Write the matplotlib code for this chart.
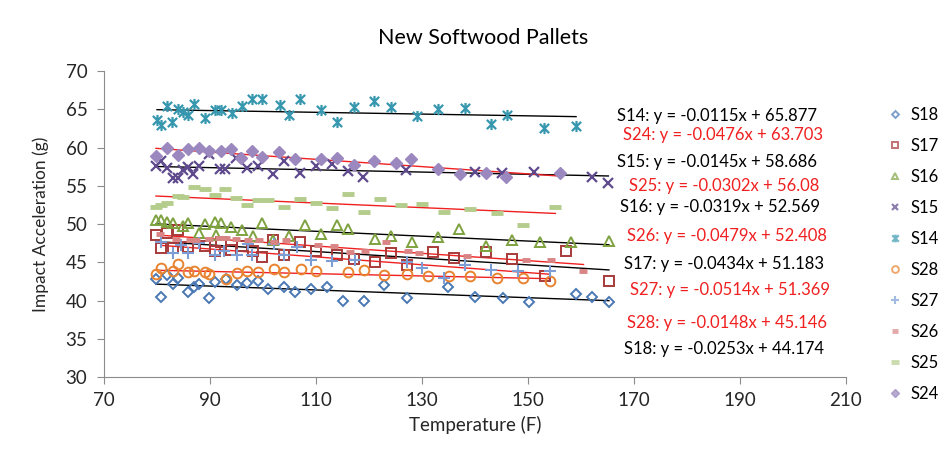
import matplotlib
matplotlib.use("Agg")
import matplotlib.pyplot as plt
from matplotlib.path import Path
import numpy as np

plt.rcParams['font.family'] = ['Lato', 'DejaVu Sans']

# ---- data: temperature (F) and impact acceleration (g) per pallet ----
s14_t = [80, 80.8, 81.9, 82.9, 83.9, 84.9, 85.9, 86.9, 89, 90.9, 92, 94.1, 96.1, 98, 99.9,
         103.2, 105, 106.9, 111, 114, 117.1, 120.9, 124.1, 129.1, 133, 138.2, 143.1, 146.1,
         153.1, 159.1]
s14_g = [63.6, 62.9, 65.4, 63.3, 65.0, 64.6, 64.2, 65.7, 63.9, 64.9, 64.9, 64.5, 65.4, 66.4, 66.3,
         65.6, 64.2, 66.3, 64.9, 63.3, 65.3, 66.1, 65.3, 64.1, 65.1, 65.2, 63.1, 64.2,
         62.5, 62.8]

s24_t = [79.8, 81.9, 84, 85.9, 87.9, 89.9, 92, 94, 95.8, 98, 99.9, 103.1, 106, 111, 114, 117.1,
         120.9, 125.1, 127.9, 133.1, 137.1, 142.1, 145.9, 156.1]
s24_g = [58.9, 60.0, 59.0, 59.8, 59.9, 59.6, 59.6, 59.8, 58.6, 59.6, 58.8, 59.4, 58.5, 58.5, 58.7, 57.7,
         58.3, 58.0, 58.5, 57.2, 56.6, 56.7, 56.1, 56.7]

s15_t = [79.8, 80.8, 81.9, 83, 84, 84.9, 85.9, 86.8, 87.9, 89.9, 91.8, 92.8, 94.9, 96.9, 99,
         101.9, 103.9, 106.9, 110, 113, 116, 118.9, 127, 140.1, 145.1, 151.1, 162.2, 165.2]
s15_g = [57.6, 58.2, 57.3, 56.0, 56.0, 57.1, 57.5, 56.6, 57.6, 59.2, 57.2, 57.2, 58.6, 57.3, 57.6,
         56.5, 58.2, 56.7, 57.6, 57.8, 56.9, 56.1, 57.1, 56.8, 56.7, 56.8, 56.2, 55.4]

s25_t = [79.8, 80.8, 81.9, 84, 84.9, 86.9, 89, 91, 92.9, 94.9, 96.9, 99, 101, 103.9, 106.9,
         110, 113, 116, 119.1, 122.1, 126, 130, 134.1, 139.1, 144.1, 149.1, 155.2]
s25_g = [52.2, 52.5, 52.7, 53.7, 53.6, 54.9, 54.6, 53.8, 54.6, 53.4, 52.5, 53.2, 53.1, 52.2, 53.3,
         52.8, 52.1, 53.9, 51.6, 53.3, 52.5, 52.6, 51.6, 52.0, 51.5, 49.9, 52.2]

s16_t = [79.8, 80.8, 81.9, 83, 84.9, 85.9, 87.9, 89, 91, 91.2, 92, 93.9, 96, 98.1, 99.9, 101.9,
         105, 107.9, 111, 114, 116.1, 121.1, 124.1, 128.1, 133, 137, 142.1, 147, 152.3, 158.2,
         165.3]
s16_g = [50.5, 50.5, 50.3, 50.2, 49.7, 50.2, 48.9, 50.0, 50.3, 48.6, 50.2, 49.6, 49.2, 48.5, 50.1, 47.9,
         48.4, 49.9, 48.7, 49.9, 49.3, 48.0, 48.5, 47.7, 48.3, 49.4, 47.2, 47.9, 47.7, 47.6,
         47.8]

s26_t = [80.5, 83.5, 86.2, 87.3, 89.8, 91.7, 93.1, 94.9, 97.2, 99.3, 102.1, 104.3, 110.4, 113.4,
         116.5, 119.3, 123.3, 127.4, 129.5, 138.6, 149.6, 154.4, 160.5]
s26_g = [48.7, 48.0, 47.9, 47.9, 48.1, 48.2, 48.2, 48.0, 47.9, 47.9, 47.7, 47.9, 47.3, 47.2,
         46.4, 46.5, 47.6, 46.5, 46.2, 45.8, 45.3, 45.3, 43.9]

s17_t = [79.8, 80.8, 81.9, 83, 84, 85.9, 89, 91, 92, 93.9, 96, 98.1, 99.9, 101.9, 103.9, 106.9,
         110, 114, 117.1, 121.1, 124.1, 127.1, 132, 136.1, 142.1, 147, 153.2, 157.2, 165.3]
s17_g = [48.6, 46.9, 48.9, 46.9, 49.2, 47.0, 47.1, 46.5, 47.6, 46.6, 47.2, 46.5, 45.7, 47.9, 45.9, 47.6,
         46.5, 45.9, 45.4, 45.1, 46.2, 44.7, 46.4, 45.6, 46.3, 45.5, 43.2, 46.5, 42.5]

s27_t = [80.8, 83, 84.5, 85.9, 87.9, 91, 92.6, 95, 97.1, 98, 102.1, 104, 106.5, 109, 113, 117.3,
         127.1, 130, 134.1, 138.2, 143.1, 148.1, 154.2]
s27_g = [47.6, 46.2, 47.3, 46.2, 47.5, 45.9, 46.5, 45.9, 47.4, 45.9, 47.4, 45.9, 47.0, 45.3, 45.2, 45.3,
         45.1, 44.2, 43.0, 44.7, 44.0, 43.9, 43.9]

s28_t = [79.8, 80.8, 83, 84, 85.9, 86.9, 89, 89.9, 93, 95, 96.9, 99, 102, 104, 107.1, 110, 116,
         119, 122.9, 127.1, 131.2, 135.1, 139.1, 144.1, 149.1, 154.2]
s28_g = [43.5, 44.2, 43.9, 44.8, 43.8, 43.9, 43.8, 43.5, 42.8, 43.6, 43.9, 43.7, 44.1, 43.7, 44.1, 43.9, 43.8,
         44.0, 43.3, 43.5, 43.2, 43.2, 43.2, 42.9, 42.9, 42.5]

s18_t = [79.8, 80.8, 81.9, 83, 84, 85.9, 86.9, 87.9, 89.9, 91, 93, 95, 96.9, 99, 101, 104, 106.1,
         109, 112.1, 115.1, 119, 122.9, 127.1, 135, 140.1, 145.3, 150.2, 159.1, 162.2, 165.3]
s18_g = [42.8, 40.5, 43.4, 42.2, 42.9, 41.1, 41.8, 42.2, 40.3, 42.4, 42.8, 42.1, 42.3, 42.6, 41.5, 41.8, 41.1,
         41.5, 41.8, 39.9, 39.9, 42.1, 40.4, 41.8, 40.5, 40.3, 39.8, 40.8, 40.5, 39.8]

# linear trendline coefficients (slope, intercept)
fit_s14 = (-0.0115, 65.877)
fit_s24 = (-0.0476, 63.703)
fit_s15 = (-0.0145, 58.686)
fit_s25 = (-0.0302, 56.08)
fit_s16 = (-0.0319, 52.569)
fit_s26 = (-0.0479, 52.408)
fit_s17 = (-0.0434, 51.183)
fit_s27 = (-0.0514, 51.369)
fit_s28 = (-0.0148, 45.146)
fit_s18 = (-0.0253, 44.174)

# Excel-style star marker: an "x" with a vertical stroke
star_path = Path(
    [(-0.5, -0.5), (0.5, 0.5), (-0.5, 0.5), (0.5, -0.5), (0, -0.6), (0, 0.6)],
    [Path.MOVETO, Path.LINETO, Path.MOVETO, Path.LINETO, Path.MOVETO, Path.LINETO])

RED = '#F02020'

# name, t, g, fit, marker style, trendline colour
series = [
    ("S18", s18_t, s18_g, fit_s18, dict(marker='D', ms=5, mfc='none', mec='#4A78B4', mew=1.4), 'black'),
    ("S17", s17_t, s17_g, fit_s17, dict(marker='s', ms=7, mfc='none', mec='#A83A3A', mew=1.4), 'black'),
    ("S16", s16_t, s16_g, fit_s16, dict(marker='^', ms=7, mfc='none', mec='#7EA23F', mew=1.4), 'black'),
    ("S15", s15_t, s15_g, fit_s15, dict(marker='x', ms=7, mfc='none', mec='#5E4A8C', mew=1.6), 'black'),
    ("S14", s14_t, s14_g, fit_s14, dict(marker=star_path, ms=8, mfc='none', mec='#3797AE', mew=1.6), 'black'),
    ("S28", s28_t, s28_g, fit_s28, dict(marker='o', ms=7, mfc='none', mec='#E8832F', mew=1.4), RED),
    ("S27", s27_t, s27_g, fit_s27, dict(marker='+', ms=8, mfc='none', mec='#7D9ED4', mew=1.5), RED),
    ("S26", s26_t, s26_g, fit_s26, dict(marker='_', ms=6, mec='#D98585', mew=3.5), RED),
    ("S25", s25_t, s25_g, fit_s25, dict(marker='_', ms=9, mec='#B4CC8C', mew=3.5), RED),
    ("S24", s24_t, s24_g, fit_s24, dict(marker='D', ms=6, mfc='#9B88BE', mec='#9B88BE', mew=1), RED),
]

# equation labels: name, fit, colour, x, y (data coordinates)
labels = [
    ("S14", fit_s14, 'black', 166.8, 64.13),
    ("S24", fit_s24, RED, 167.9, 61.64),
    ("S15", fit_s15, 'black', 166.8, 58.12),
    ("S25", fit_s25, RED, 169.1, 54.99),
    ("S16", fit_s16, 'black', 167.3, 52.25),
    ("S26", fit_s26, RED, 168.8, 48.46),
    ("S17", fit_s17, 'black', 168.1, 44.80),
    ("S27", fit_s27, RED, 169.2, 41.41),
    ("S28", fit_s28, RED, 168.8, 37.10),
    ("S18", fit_s18, 'black', 168.1, 33.70),
]

fig = plt.figure(figsize=(9.46, 4.5), dpi=100)
ax = fig.add_axes([0.110, 0.162, 0.784, 0.680])

handles = []
for name, t, g, fit, style, tcolor in series:
    h, = ax.plot(t, g, linestyle='none', label=name, **style)
    handles.append(h)
    xs = np.array([min(t), max(t)])
    ax.plot(xs, fit[0] * xs + fit[1], color=tcolor, lw=1.0, zorder=1)

for name, fit, color, lx, ly in labels:
    ax.text(lx, ly, f"{name}: y = {fit[0]:.4f}x + {fit[1]:g}",
            color=color, fontsize=12, va='center', ha='left')

ax.set_xlim(70, 210)
ax.set_ylim(30, 70)
ax.set_xticks(np.arange(70, 211, 20))
ax.set_yticks(np.arange(30, 71, 5))
for s in ['top', 'right']:
    ax.spines[s].set_visible(False)
for s in ['left', 'bottom']:
    ax.spines[s].set_color('#8C8C8C')
ax.tick_params(direction='out', length=5, color='#8C8C8C', labelsize=13.5, labelcolor='#262626')
ax.tick_params(axis='y', pad=7)
ax.tick_params(axis='x', pad=6)
ax.set_xlabel("Temperature (F)", fontsize=13.5, color='#262626', labelpad=5)
ax.set_ylabel("Impact Acceleration (g)", fontsize=12.5, color='#262626', labelpad=12)

fig.text(483 / 946, 1 - 38 / 450, "New Softwood Pallets", ha='center', va='center',
         fontsize=15.5, color='black')

leg = fig.legend(handles=handles, loc='upper left', bbox_to_anchor=(882 / 946, 1 - 100 / 450),
                 frameon=False, fontsize=12, labelspacing=0.9, handlelength=0.8, handletextpad=0.5,
                 borderaxespad=0, markerscale=0.7)
for lh in leg.legend_handles:
    lh.set_alpha(0.7)

fig.savefig("out.png", dpi=100)
